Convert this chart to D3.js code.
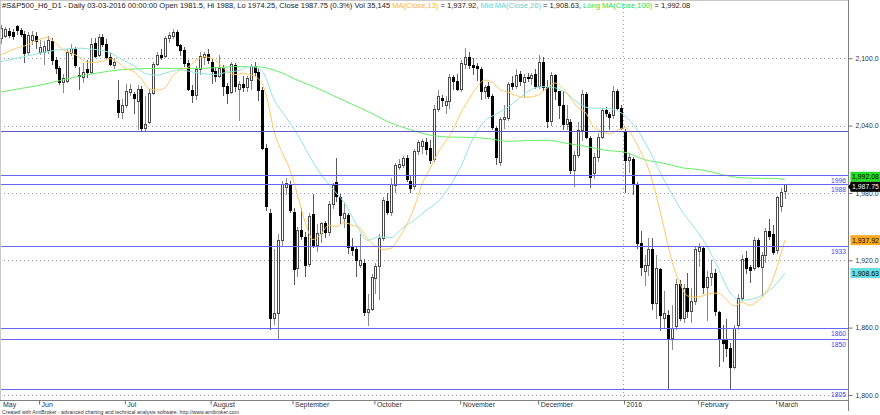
<!DOCTYPE html>
<html><head><meta charset="utf-8">
<script src="https://cdn.jsdelivr.net/npm/d3@7/dist/d3.min.js"></script>
<style>html,body{margin:0;padding:0;background:#fff}svg{display:block}</style>
</head><body>
<svg id="chart" width="880" height="415"></svg>
<script>
const dates = [
"2015-05-15","2015-05-18","2015-05-19","2015-05-20","2015-05-21","2015-05-22","2015-05-26","2015-05-27","2015-05-28","2015-05-29",
"2015-06-01","2015-06-02","2015-06-03","2015-06-04","2015-06-05","2015-06-08","2015-06-09","2015-06-10","2015-06-11","2015-06-12",
"2015-06-15","2015-06-16","2015-06-17","2015-06-18","2015-06-19","2015-06-22","2015-06-23","2015-06-24","2015-06-25","2015-06-26",
"2015-06-29","2015-06-30","2015-07-01","2015-07-02","2015-07-06","2015-07-07","2015-07-08","2015-07-09","2015-07-10","2015-07-13",
"2015-07-14","2015-07-15","2015-07-16","2015-07-17","2015-07-20","2015-07-21","2015-07-22","2015-07-23","2015-07-24","2015-07-27",
"2015-07-28","2015-07-29","2015-07-30","2015-07-31","2015-08-03","2015-08-04","2015-08-05","2015-08-06","2015-08-07","2015-08-10",
"2015-08-11","2015-08-12","2015-08-13","2015-08-14","2015-08-17","2015-08-18","2015-08-19","2015-08-20","2015-08-21","2015-08-24",
"2015-08-25","2015-08-26","2015-08-27","2015-08-28","2015-08-31","2015-09-01","2015-09-02","2015-09-03","2015-09-04","2015-09-08",
"2015-09-09","2015-09-10","2015-09-11","2015-09-14","2015-09-15","2015-09-16","2015-09-17","2015-09-18","2015-09-21","2015-09-22",
"2015-09-23","2015-09-24","2015-09-25","2015-09-28","2015-09-29","2015-09-30","2015-10-01","2015-10-02","2015-10-05","2015-10-06",
"2015-10-07","2015-10-08","2015-10-09","2015-10-12","2015-10-13","2015-10-14","2015-10-15","2015-10-16","2015-10-19","2015-10-20",
"2015-10-21","2015-10-22","2015-10-23","2015-10-26","2015-10-27","2015-10-28","2015-10-29","2015-10-30","2015-11-02","2015-11-03",
"2015-11-04","2015-11-05","2015-11-06","2015-11-09","2015-11-10","2015-11-11","2015-11-12","2015-11-13","2015-11-16","2015-11-17",
"2015-11-18","2015-11-19","2015-11-20","2015-11-23","2015-11-24","2015-11-25","2015-11-27","2015-11-30","2015-12-01","2015-12-02",
"2015-12-03","2015-12-04","2015-12-07","2015-12-08","2015-12-09","2015-12-10","2015-12-11","2015-12-14","2015-12-15","2015-12-16",
"2015-12-17","2015-12-18","2015-12-21","2015-12-22","2015-12-23","2015-12-24","2015-12-28","2015-12-29","2015-12-30","2015-12-31",
"2016-01-04","2016-01-05","2016-01-06","2016-01-07","2016-01-08","2016-01-11","2016-01-12","2016-01-13","2016-01-14","2016-01-15",
"2016-01-19","2016-01-20","2016-01-21","2016-01-22","2016-01-25","2016-01-26","2016-01-27","2016-01-28","2016-01-29","2016-02-01",
"2016-02-02","2016-02-03","2016-02-04","2016-02-05","2016-02-08","2016-02-09","2016-02-10","2016-02-11","2016-02-12","2016-02-16",
"2016-02-17","2016-02-18","2016-02-19","2016-02-22","2016-02-23","2016-02-24","2016-02-25","2016-02-26","2016-02-29","2016-03-01",
"2016-03-02","2016-03-03"];

const open = [2118,2120,2124,2123,2129,2125,2122,2106,2116,2120, 2106,2106,2107,2115,2098,2091,2079,2080,2105,2108,
2085,2083,2090,2088,2114,2103,2119,2113,2101,2094, 2063,2052,2058,2070,2068,2062,2073,2038,2043,2069,
2095,2103,2102,2118,2120,2123,2112,2107,2096,2072, 2067,2090,2101,2104,2097,2089,2084,2091,2075,2070,
2094,2073,2077,2074,2081,2093,2088,2072,2020,1962, 1869,1873,1938,1985,1988,1963,1913,1947,1941,1917,
1961,1934,1944,1953,1945,1970,1990,1976,1958,1960, 1932,1930,1916,1918,1874,1877,1904,1915,1940,1973,
1963,1987,2003,2005,2011,1991,1986,2017,2022,2025, 2020,2010,2055,2065,2058,2062,2083,2080,2073,2095,
2101,2094,2093,2090,2071,2075,2066,2038,2008,2046, 2047,2078,2075,2086,2079,2083,2082,2086,2075,2097,
2074,2044,2085,2071,2058,2041,2043,2000,2014,2036, 2068,2029,1998,2012,2030,2054,2050,2049,2071,2056,
2034,2009,2010,1988,1935,1910,1916,1930,1882,1912, 1869,1871,1851,1861,1899,1869,1895,1875,1884,1928,
1931,1896,1905,1909,1874,1850,1850,1842,1825,1862, 1886,1922,1914,1913,1938,1914,1925,1946,1943,1929,
1968,1981.5];

const high = [2130,2128,2127,2126,2130,2127,2124,2123,2124,2123, 2116,2115,2120,2118,2101,2093,2086,2108,2113,2110,
2092,2096,2098,2118,2118,2122,2122,2117,2105,2100, 2081,2064,2077,2077,2070,2076,2075,2066,2073,2097,
2106,2108,2120,2123,2126,2125,2113,2110,2098,2076, 2093,2106,2106,2108,2100,2092,2103,2094,2078,2097,
2096,2080,2084,2084,2095,2097,2091,2074,2024,1966, 1930,1943,1991,1993,1991,1967,1950,1967,1945,1962,
1979,1952,1954,1955,1973,1989,2011,1979,1972,1962, 1940,1932,1943,1921,1890,1908,1918,1943,1976,1980,
1993,2007,2010,2013,2014,1996,2019,2027,2028,2029, 2027,2058,2072,2067,2066,2086,2085,2086,2098,2109,
2106,2100,2096,2092,2076,2079,2068,2040,2048,2058, 2079,2084,2090,2089,2086,2087,2087,2090,2103,2101,
2081,2088,2086,2071,2071,2058,2046,2017,2043,2072, 2070,2031,2016,2033,2056,2057,2052,2075,2073,2058,
2037,2016,2012,1990,1946,1925,1940,1940,1925,1913, 1893,1876,1880,1903,1902,1899,1909,1895,1932,1935,
1933,1910,1920,1912,1875,1862,1868,1846,1862,1890, 1925,1928,1916,1941,1940,1927,1949,1957,1951,1977,
1984,1988];

const low = [2113,2118,2118,2116,2121,2119,2096,2103,2112,2108, 2103,2094,2104,2094,2086,2076,2069,2078,2102,2091,
2072,2078,2082,2086,2100,2101,2110,2099,2093,2090, 2047,2046,2056,2066,2050,2036,2035,2035,2041,2067,
2093,2098,2100,2114,2117,2110,2102,2092,2071,2060, 2063,2085,2094,2095,2077,2079,2082,2066,2059,2068,
2070,2044,2070,2070,2072,2084,2062,2018,1964,1858, 1862,1850,1933,1978,1962,1898,1905,1938,1905,1914,
1931,1927,1935,1940,1942,1966,1972,1952,1949,1926, 1924,1905,1913,1870,1861,1875,1890,1885,1937,1960,
1959,1980,2000,2002,1990,1980,1983,2014,2015,2014, 2006,2008,2052,2057,2050,2055,2072,2071,2070,2090,
2090,2085,2080,2063,2064,2064,2036,2005,2004,2037, 2044,2072,2073,2075,2065,2079,2076,2073,2073,2071,
2038,2040,2063,2046,2036,2036,1997,1985,2011,2026, 2028,1984,1992,2008,2028,2048,2036,2046,2054,2036,
1980,1998,1978,1930,1906,1897,1906,1876,1868,1857, 1860,1805,1840,1858,1866,1864,1869,1864,1880,1914,
1890,1866,1897,1870,1825,1829,1834,1805,1823,1858, 1884,1908,1900,1910,1913,1887,1918,1938,1925,1926,
1963,1974.25];

const close = [2127,2126,2121,2120,2125,2122,2105,2121,2121,2115, 2110,2111,2116,2098,2091,2079,2082,2106,2109,2094,
2084,2088,2088,2113,2102,2119,2113,2101,2095,2097, 2052,2058,2071,2073,2065,2073,2038,2041,2069,2095,
2103,2101,2118,2121,2123,2112,2107,2096,2073,2067, 2090,2102,2104,2098,2089,2084,2091,2075,2069,2095,
2075,2077,2074,2082,2093,2088,2072,2020,1968,1869, 1873,1938,1988,1989,1965,1912,1947,1942,1916,1959,
1934,1944,1953,1945,1970,1987,1977,1960,1962,1932, 1929,1920,1920,1874,1877,1905,1915,1940,1974,1963,
1988,2005,2006,2011,1992,1984,2017,2025,2026,2019, 2009,2055,2066,2063,2062,2083,2080,2073,2096,2101,
2094,2092,2091,2071,2074,2066,2039,2012,2046,2048, 2077,2075,2085,2080,2083,2082,2085,2075,2097,2074,
2044,2085,2071,2058,2041,2046,2000,2014,2036,2068, 2030,1994,2012,2030,2054,2051,2048,2071,2056,2038,
2009,2012,1988,1935,1914,1916,1930,1882,1913,1871, 1873,1851,1860,1899,1869,1895,1875,1884,1930,1932,
1896,1905,1909,1875,1850,1846,1842,1825,1860,1886, 1921,1913,1911,1938,1915,1925,1946,1942,1927,1976,
1981,1987.75];

const lastVolume = 35145;
const pctChange = "0.3%";

// Moving averages: [bar index, value]
const ma13 = [[0,2103],[2,2106],[4,2109],[6,2111],[8,2114],[10,2117],[12,2118.5],[14,2113.5],[16,2107.4],[18,2104.9],[20,2101.2],[22,2096.6],[24,2096.2],[26,2097.5],[28,2099.5],[30,2096.5],[32,2090.8],[34,2088.2],[36,2081.3],[38,2072.8],[40,2071.5],[42,2073.6],[44,2083.9],[46,2089.7],[48,2092.1],[50,2098.1],[52,2101.3],[54,2100],[56,2095.1],[58,2088.1],[60,2085.5],[62,2086.4],[64,2085.1],[66,2081.8],[68,2067.6],[70,2035],[72,2016.7],[74,2001.5],[76,1978.6],[78,1953.8],[80,1938.5],[82,1943.1],[84,1951.1],[86,1950.1],[88,1953.5],[90,1951.4],[92,1948.7],[94,1938.9],[96,1932.9],[98,1929.6],[100,1930.7],[102,1939.7],[104,1951.5],[106,1967.5],[108,1988.2],[110,2001.5],[112,2015.6],[114,2025.8],[116,2037],[118,2051.8],[120,2063.6],[122,2074.2],[124,2080.5],[126,2078.6],[128,2071.9],[130,2069.8],[132,2066.9],[134,2065.2],[136,2065.5],[138,2068],[140,2073.2],[142,2077.9],[144,2073.8],[146,2064.7],[148,2055.8],[150,2051.1],[152,2038.4],[154,2034.9],[156,2032.6],[158,2035.7],[160,2038.2],[162,2030.2],[164,2016.8],[166,2001.7],[168,1977.8],[170,1949],[172,1919.5],[174,1900.1],[176,1888.3],[178,1887.1],[180,1888.3],[182,1890.6],[184,1890.7],[186,1885.2],[188,1879.2],[190,1882.8],[192,1879.9],[194,1883.9],[196,1890.6],[198,1903.9],[200,1926.2],[201,1937.92]];
const ma26 = [[0,2097],[4,2100],[8,2103],[12,2106],[16,2108],[20,2109],[22,2108.5],[25,2107.4],[28,2104.9],[31,2098.8],[34,2093.5],[37,2086.4],[40,2084.9],[43,2087.7],[46,2089.8],[49,2087.8],[52,2086.3],[55,2085.5],[58,2087.6],[61,2089],[64,2092.8],[67,2088.3],[70,2063.2],[73,2047.8],[76,2032.2],[79,2013.5],[82,1996.8],[85,1983.8],[88,1971.3],[91,1952.7],[94,1937.8],[97,1940.8],[100,1940.2],[103,1948.7],[106,1955.8],[109,1964.5],[112,1972.1],[115,1985.7],[118,2004.2],[121,2028.4],[124,2044.1],[127,2050.3],[130,2056.5],[133,2064.7],[136,2072.3],[139,2074.7],[142,2073.7],[145,2068.9],[148,2060.2],[151,2055.6],[154,2055.5],[157,2054.4],[160,2048.8],[163,2037],[166,2019.5],[169,1998.4],[172,1979.1],[175,1961.6],[178,1948.2],[181,1932.8],[184,1912],[187,1891],[190,1884.4],[193,1885.7],[196,1890.7],[199,1899.7],[201,1908.63]];
const ma100 = [[0,2070],[5,2073],[10,2076],[15,2080],[20,2084],[25,2087],[30,2089.5],[35,2090.5],[40,2091],[45,2091],[50,2091],[55,2091.5],[60,2092.5],[65,2092.5],[68,2091.5],[70,2089.5],[72,2087],[75,2082],[77,2079],[80,2075],[85,2067],[90,2059],[95,2051],[99,2043.8],[105,2036.3],[110,2031.5],[115,2029.8],[120,2029.5],[125,2028.4],[130,2026],[135,2026.7],[140,2026.9],[145,2024.2],[150,2021.4],[155,2018],[160,2016.2],[165,2009.7],[170,2006.3],[175,2002.2],[180,2000.4],[185,1996.2],[190,1993.5],[195,1993],[198,1992.9],[201,1992.08]];

const yTicks = [1800, 1860, 1920, 1980, 2040, 2100];
const levelLines = [1996, 1988, 1933, 1860, 1850, 1805];
const plainLevels = [2035];
const monthTickDates = ["2015-06-01","2015-07-01","2015-08-03","2015-09-01","2015-10-01","2015-11-02","2015-12-01","2016-01-04","2016-02-01","2016-03-01"];
const monthLabels = ["Jun","Jul","August","September","October","November","December","2016","February","March"];
const firstMonthLabel = "May";

const FONT = "'Liberation Sans', Arial, sans-serif";
const PR = 848, PB = 400;
const C13 = "#ffc764", C26 = "#8fe6dc", C100 = "#66ee66";

const svg = d3.select("#chart").style("font-family", FONT);
const x = d3.scaleLinear().domain([0, dates.length - 1]).range([1, 784.9]);
const y = d3.scaleLinear().domain([1795.5, 2151.9]).range([PB, 0]);
const n = dates.length, last = n - 1;

svg.append("defs").append("clipPath").attr("id", "pc")
  .append("rect").attr("x", 0).attr("y", 0).attr("width", PR).attr("height", PB);
const plot = svg.append("g").attr("clip-path", "url(#pc)");

// dotted grid
plot.append("g").selectAll("line").data(yTicks).join("line")
  .attr("x1", 0).attr("x2", PR)
  .attr("y1", d => Math.round(y(d)) + 0.5).attr("y2", d => Math.round(y(d)) + 0.5)
  .attr("stroke", "#9a9a9a").attr("stroke-dasharray", "1,3");
// year separator
const yearIdx = dates.indexOf("2016-01-04");
plot.append("line")
  .attr("x1", Math.round(x(yearIdx)) - 1.5).attr("x2", Math.round(x(yearIdx)) - 1.5)
  .attr("y1", 0).attr("y2", PB)
  .attr("stroke", "#9a9a9a").attr("stroke-dasharray", "1,3");

// candles
const idx = d3.range(n);
const cg = plot.append("g").attr("shape-rendering", "crispEdges");
cg.selectAll("line").data(idx).join("line")
  .attr("x1", i => Math.round(x(i)) + 0.5).attr("x2", i => Math.round(x(i)) + 0.5)
  .attr("y1", i => y(high[i])).attr("y2", i => y(low[i]))
  .attr("stroke", i => close[i] >= open[i] ? "#8a8a8a" : "#5a5a5a");
cg.selectAll("rect").data(idx).join("rect")
  .attr("x", i => Math.round(x(i)) - 0.5)
  .attr("width", 2)
  .attr("y", i => Math.round(y(Math.max(open[i], close[i]))) + 0.5)
  .attr("height", i => Math.max(1, Math.round(y(Math.min(open[i], close[i]))) - Math.round(y(Math.max(open[i], close[i])))))
  .attr("fill", i => close[i] >= open[i] ? "#fff" : "#000")
  .attr("stroke", i => close[i] >= open[i] ? "#4a4a4a" : "#000");

// moving averages
const line = d3.line().x(d => x(d[0])).y(d => y(d[1])).curve(d3.curveMonotoneX);
[[ma100, C100], [ma26, C26], [ma13, C13]].forEach(([data, col]) => {
  plot.append("path").datum(data).attr("d", line).attr("fill", "none")
    .attr("stroke", col).attr("stroke-width", 1);
});

// level lines
plot.append("g").selectAll("line").data(plainLevels).join("line")
  .attr("x1", 0).attr("x2", PR)
  .attr("y1", d => Math.round(y(d)) + 0.5).attr("y2", d => Math.round(y(d)) + 0.5)
  .attr("stroke", "#5858c8").attr("stroke-width", 1);
const lv = plot.append("g");
lv.selectAll("line").data(levelLines).join("line")
  .attr("x1", 0).attr("x2", PR)
  .attr("y1", d => Math.round(y(d)) + 0.5).attr("y2", d => Math.round(y(d)) + 0.5)
  .attr("stroke", "#6666f2").attr("stroke-width", 1);
lv.selectAll("text").data(levelLines).join("text")
  .attr("x", PR - 2).attr("y", d => Math.round(y(d)) + 7.5)
  .attr("text-anchor", "end").attr("font-size", 6.7).attr("fill", "#4444ee")
  .text(d => d);

// frame
svg.append("line").attr("x1", 0).attr("x2", PR).attr("y1", 0.5).attr("y2", 0.5).attr("stroke", "#c8c8c8");
svg.append("line").attr("x1", 0.5).attr("x2", 0.5).attr("y1", 0).attr("y2", PB).attr("stroke", "#c8c8c8");
svg.append("line").attr("x1", 0).attr("x2", PR).attr("y1", PB + 0.5).attr("y2", PB + 0.5).attr("stroke", "#808080");
svg.append("line").attr("x1", PR + 0.5).attr("x2", PR + 0.5).attr("y1", 0).attr("y2", 411).attr("stroke", "#808080");

// y axis
const yAxis = d3.axisRight(y).tickValues(yTicks).tickSize(4).tickPadding(3).tickFormat(d3.format(",.1f"));
const ya = svg.append("g").attr("transform", `translate(${PR + 0.5},0)`).call(yAxis);
ya.select(".domain").remove();
ya.selectAll("line").attr("stroke", "#707070");
ya.selectAll("text").attr("font-size", 6.9).attr("fill", "#333").attr("font-family", FONT);

// x axis
const monthIdx = monthTickDates.map(d => dates.indexOf(d));
const xAxis = d3.axisBottom(x).tickValues(monthIdx).tickSize(4).tickFormat((d, k) => monthLabels[k]);
const xa = svg.append("g").attr("transform", `translate(-1,${PB + 0.5})`).call(xAxis);
xa.select(".domain").remove();
xa.selectAll("line").attr("stroke", "#707070");
xa.selectAll("text").attr("font-size", 7).attr("fill", "#333").attr("font-family", FONT)
  .attr("text-anchor", "start").attr("x", 2).attr("y", 6).attr("dy", null);
svg.append("text").attr("x", 3).attr("y", PB + 6.5).attr("font-size", 7).attr("fill", "#333").text(firstMonthLabel);

// footer
svg.append("text").attr("x", 2).attr("y", 413.5).attr("font-size", 5.2).attr("fill", "#333")
  .text("Created with AmiBroker - advanced charting and technical analysis software. http://www.amibroker.com");

// header
const f2 = d3.format(",.2f");
const hdr = svg.append("text").attr("x", 2).attr("y", 8).attr("font-size", 7.55).attr("fill", "#222");
hdr.append("tspan").text(`#S&P500_H6_D1 - Daily 03-03-2016 00:00:00 Open ${open[last]}, Hi ${high[last]}, Lo ${low[last]}, Close ${close[last]} (${pctChange}) Vol ${d3.format(",")(lastVolume)} `);
hdr.append("tspan").attr("fill", "#ffb030").text("MA(Close,13)");
hdr.append("tspan").text(` = ${f2(ma13[ma13.length - 1][1])}, `);
hdr.append("tspan").attr("fill", "#5fcfcf").text("Mid MA(Close,26)");
hdr.append("tspan").text(` = ${f2(ma26[ma26.length - 1][1])}, `);
hdr.append("tspan").attr("fill", "#33dd33").text("Long MA(Close,100)");
hdr.append("tspan").text(` = ${f2(ma100[ma100.length - 1][1])}`);

// right value labels
const labels = [
  {v: ma100[ma100.length - 1][1], bg: "#22dd22", fg: "#000"},
  {v: close[last], bg: "#000", fg: "#fff", arrow: true},
  {v: ma13[ma13.length - 1][1], bg: "#ffaa22", fg: "#000"},
  {v: ma26[ma26.length - 1][1], bg: "#66dddd", fg: "#000"}
].map(d => ({...d, cy: y(d.v)}));
labels.sort((a, b) => a.cy - b.cy);
for (let it = 0; it < 5; it++) {
  for (let k = 1; k < labels.length; k++) {
    const gap = labels[k].cy - labels[k - 1].cy;
    if (gap < 10) { const s = (10 - gap) / 2; labels[k - 1].cy -= s; labels[k].cy += s; }
  }
}
const lg = svg.append("g");
labels.forEach(d => {
  lg.append("rect").attr("x", PR + 2.5).attr("y", d.cy - 5).attr("width", 40).attr("height", 10).attr("fill", d.bg);
  if (d.arrow) lg.append("path").attr("d", `M${PR},${d.cy}L${PR + 3},${d.cy - 4}L${PR + 3},${d.cy + 4}Z`).attr("fill", d.bg);
  lg.append("text").attr("x", PR + 4).attr("y", d.cy + 2.5).attr("font-size", 6.9).attr("fill", d.fg).text(f2(d.v));
});
</script>
</body></html>
